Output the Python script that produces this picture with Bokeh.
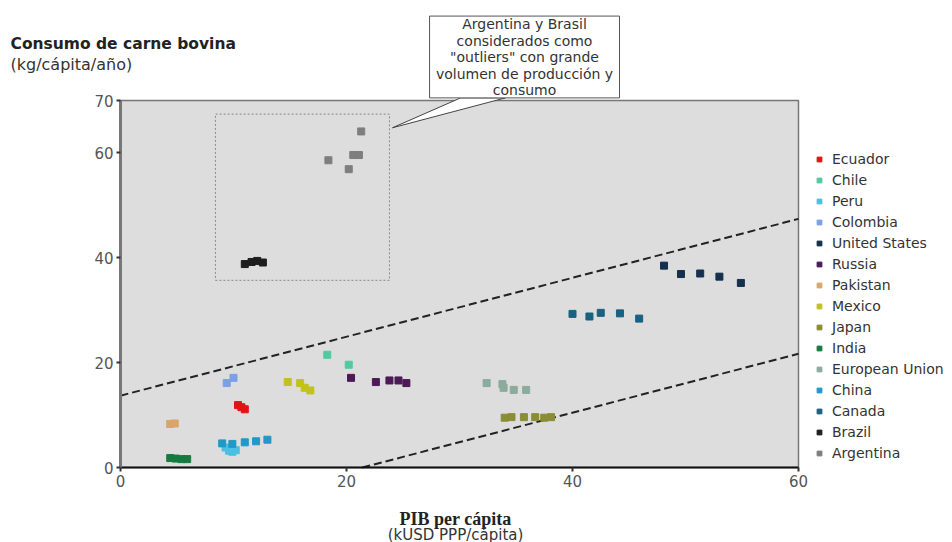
from bokeh.plotting import figure
from bokeh.models import Range1d, LinearAxis, FixedTicker, Label, ColumnDataSource
from bokeh.embed import file_html
from bokeh.resources import INLINE

# --- data: PIB per cápita (kUSD PPP) vs consumo de carne bovina (kg/cápita/año)
countries = ["Ecuador", "Chile", "Peru", "Colombia", "United States", "Russia",
             "Pakistan", "Mexico", "Japan", "India", "European Union", "China",
             "Canada", "Brazil", "Argentina"]
colors = ["#e01414", "#52c9a2", "#4cc0e4", "#7b9fe8", "#14304e", "#4b1a57",
          "#d9a66b", "#c2c21e", "#8a8c36", "#167a40", "#8aab9d", "#2298c8",
          "#1a6080", "#1e1e1e", "#7e7e7e"]

ecuador_pib = [10.4, 10.7, 11.0]
ecuador_carne = [11.9, 11.5, 11.1]
chile_pib = [18.3, 20.2]
chile_carne = [21.5, 19.6]
peru_pib = [9.3, 9.6, 9.9, 10.2]
peru_carne = [3.8, 3.2, 3.0, 3.3]
colombia_pib = [9.4, 10.0]
colombia_carne = [16.1, 17.1]
usa_pib = [48.1, 49.6, 51.3, 53.0, 54.9]
usa_carne = [38.5, 36.9, 37.0, 36.4, 35.2]
russia_pib = [20.4, 22.6, 23.8, 24.6, 25.3]
russia_carne = [17.1, 16.3, 16.6, 16.6, 16.1]
pakistan_pib = [4.4, 4.8]
pakistan_carne = [8.3, 8.4]
mexico_pib = [14.8, 15.9, 16.3, 16.8]
mexico_carne = [16.3, 16.1, 15.2, 14.7]
japan_pib = [34.0, 34.6, 35.7, 36.7, 37.5, 38.1]
japan_carne = [9.5, 9.6, 9.6, 9.6, 9.5, 9.6]
india_pib = [4.4, 4.9, 5.4, 5.9]
india_carne = [1.8, 1.7, 1.6, 1.6]
eu_pib = [32.4, 33.8, 33.9, 34.8, 35.9]
eu_carne = [16.1, 15.9, 15.2, 14.8, 14.8]
china_pib = [9.0, 9.9, 11.0, 12.0, 13.0]
china_carne = [4.6, 4.5, 4.8, 5.0, 5.3]
canada_pib = [40.0, 41.5, 42.5, 44.2, 45.9]
canada_carne = [29.3, 28.8, 29.5, 29.4, 28.4]
brazil_pib = [11.0, 11.6, 12.1, 12.6]
brazil_carne = [38.8, 39.2, 39.4, 39.1]
argentina_pib = [18.4, 20.2, 20.6, 21.1, 21.3]
argentina_carne = [58.6, 56.9, 59.6, 59.6, 64.1]

series_x = [ecuador_pib, chile_pib, peru_pib, colombia_pib, usa_pib, russia_pib,
            pakistan_pib, mexico_pib, japan_pib, india_pib, eu_pib, china_pib,
            canada_pib, brazil_pib, argentina_pib]
series_y = [ecuador_carne, chile_carne, peru_carne, colombia_carne, usa_carne,
            russia_carne, pakistan_carne, mexico_carne, japan_carne, india_carne,
            eu_carne, china_carne, canada_carne, brazil_carne, argentina_carne]

x_ticks = [0, 20, 40, 60]
y_ticks = [0, 20, 40, 60, 70]
x_max, y_max = 60, 70

# band of dashed reference lines (same slope)
band_slope = 0.562
band_upper_intercept = 13.7
band_lower_x0 = 21.4

# dotted box around the outliers
outlier_box = dict(left=8.4, right=23.8, bottom=35.7, top=67.4)

# --- canvas: the frame fills the whole page, axes sit at the data origin
W, H = 952, 542
ORIGIN_PX_X, ORIGIN_PX_Y = 120, 467          # pixel of (0, 0), from top-left
END_PX_X, END_PX_Y = 798, 100                # pixel of (60, 70)
sx = (END_PX_X - ORIGIN_PX_X) / x_max
sy = (ORIGIN_PX_Y - END_PX_Y) / y_max

p = figure(width=W, height=H, output_backend="svg", toolbar_location=None,
           x_axis_type=None, y_axis_type=None, min_border=0,
           x_range=Range1d(-ORIGIN_PX_X / sx, x_max + (W - END_PX_X) / sx),
           y_range=Range1d(-(H - ORIGIN_PX_Y) / sy, y_max + END_PX_Y / sy))
p.outline_line_color = None
p.background_fill_color = "white"
p.border_fill_color = "white"

# plot area
p.quad(left=[0], right=[x_max], bottom=[0], top=[y_max],
       fill_color="#dddddd", line_color="#777777", line_width=1.5)

# dashed band lines
p.line([0, x_max], [band_upper_intercept, band_upper_intercept + band_slope * x_max],
       line_color="#222222", line_width=2, line_dash="8 4")
p.line([band_lower_x0, x_max], [0, band_slope * (x_max - band_lower_x0)],
       line_color="#222222", line_width=2, line_dash="8 4")

# dotted outlier box
b = outlier_box
p.line([b["left"], b["right"], b["right"], b["left"], b["left"]],
       [b["bottom"], b["bottom"], b["top"], b["top"], b["bottom"]],
       line_color="#8a8a8a", line_width=1, line_dash="2 2")

# scatter series
for name, col, xs, ys in zip(countries, colors, series_x, series_y):
    src = ColumnDataSource(dict(x=xs, y=ys))
    p.scatter("x", "y", source=src, marker="square", size=7,
              fill_color=col, line_color=col, legend_label=name)

# axes
yaxis = LinearAxis(fixed_location=0, bounds=(0, y_max), ticker=FixedTicker(ticks=y_ticks))
xaxis = LinearAxis(fixed_location=0, bounds=(0, x_max), ticker=FixedTicker(ticks=x_ticks))
for ax in (xaxis, yaxis):
    ax.major_tick_in = 0
    ax.major_tick_out = 4
    ax.minor_tick_in = 0
    ax.minor_tick_out = 0
    ax.major_tick_line_color = "#333333"
    ax.major_tick_line_width = 2
    ax.major_label_text_font = "DejaVu Sans"
    ax.major_label_text_font_size = "15px"
    ax.major_label_text_color = "#555555"
    ax.major_label_standoff = 3
yaxis.axis_line_color = "#777777"
yaxis.axis_line_width = 3
xaxis.axis_line_color = "#111111"
xaxis.axis_line_width = 2
p.add_layout(yaxis, "left")
p.add_layout(xaxis, "below")

# callout
call_left, call_right, call_bottom, call_top = 27.35, 44.16, 70.5, 86.1
tip_x, tip_y = 24.07, 64.8
p.patch([30.1, tip_x, 34.07], [call_bottom, tip_y, call_bottom],
        fill_color="white", line_color="#444444", line_width=1)
p.quad(left=[call_left], right=[call_right], bottom=[call_bottom], top=[call_top],
       fill_color="white", line_color="#555555", line_width=1)
p.add_layout(Label(x=(call_left + call_right) / 2, y=call_top - 0.05,
                   text="Argentina y Brasil\nconsiderados como\n\"outliers\" con grande\n"
                        "volumen de producción y\nconsumo",
                   text_align="center", text_baseline="top",
                   text_font="DejaVu Sans", text_font_size="14px",
                   text_color="#333333", text_line_height=1.03))

# axis titles
p.add_layout(Label(x=10, y=H - 43, x_units="screen", y_units="screen",
                   text="Consumo de carne bovina", text_font="DejaVu Sans",
                   text_font_style="bold", text_font_size="15.5px",
                   text_color="#222222", text_baseline="alphabetic"))
p.add_layout(Label(x=10, y=H - 64, x_units="screen", y_units="screen",
                   text="(kg/cápita/año)", text_font="DejaVu Sans",
                   text_font_size="16px", text_color="#333333",
                   text_baseline="alphabetic"))
p.add_layout(Label(x=455, y=H - 518, x_units="screen", y_units="screen",
                   text="PIB per cápita", text_font="Liberation Serif",
                   text_font_style="bold", text_font_size="18px",
                   text_color="#222222", text_align="center",
                   text_baseline="alphabetic"))
p.add_layout(Label(x=455, y=H - 534, x_units="screen", y_units="screen",
                   text="(kUSD PPP/cápita)", text_font="DejaVu Sans",
                   text_font_size="15px", text_color="#333333",
                   text_align="center", text_baseline="alphabetic"))

# legend
lg = p.legend[0]
lg.location = (813, 79)
lg.padding = 0
lg.margin = 0
lg.spacing = 1
lg.glyph_width = 12
lg.glyph_height = 20
lg.label_height = 20
lg.label_standoff = 7
lg.label_text_font = "DejaVu Sans"
lg.label_text_font_size = "14px"
lg.label_text_color = "#333333"
lg.border_line_color = None
lg.background_fill_alpha = 0

open("out.html", "w").write(file_html(p, INLINE))
